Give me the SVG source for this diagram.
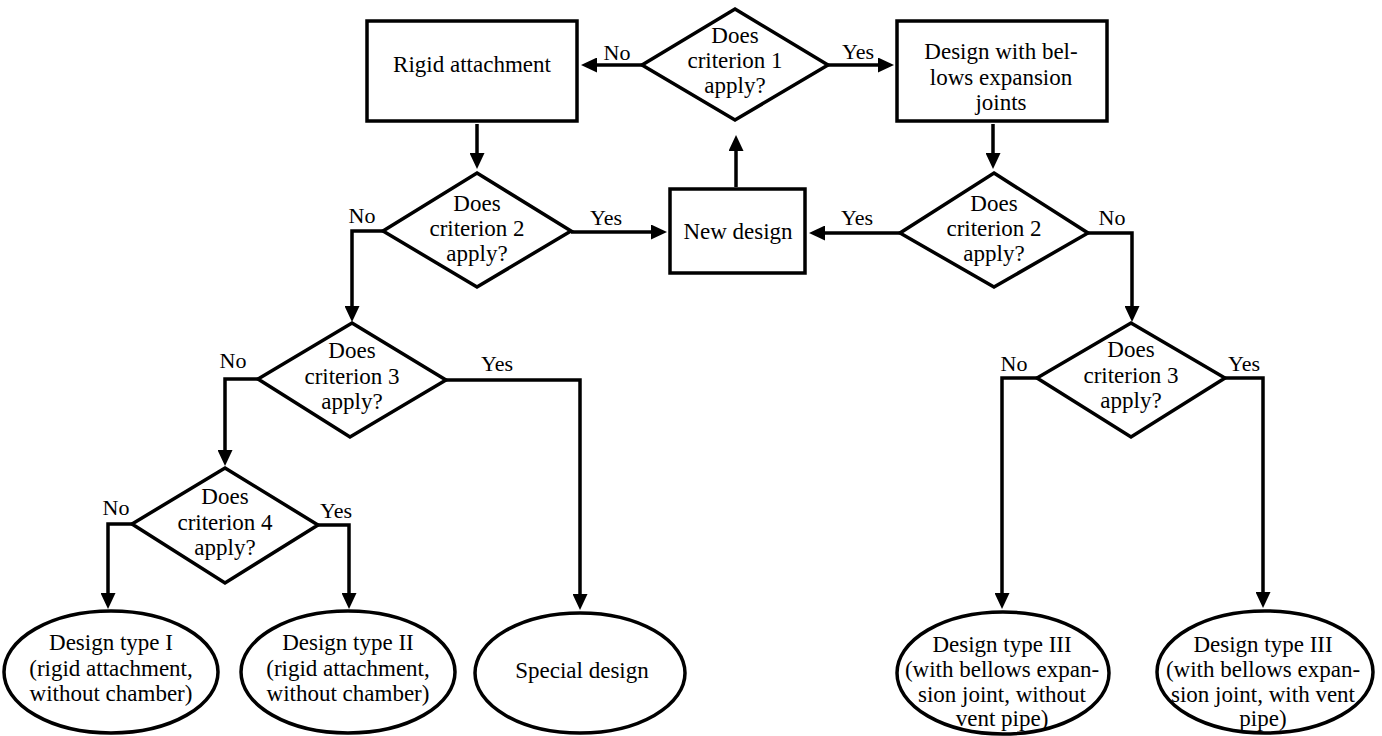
<svg xmlns="http://www.w3.org/2000/svg" width="1382" height="736" viewBox="0 0 1382 736">
<style>
.box{fill:#fff;stroke:#000;stroke-width:3.5}
.t{font-family:"Liberation Serif","Times New Roman",serif;font-size:23px;fill:#000;text-anchor:middle}
.lbl{font-family:"Liberation Serif","Times New Roman",serif;font-size:22px;fill:#000;text-anchor:middle}
.c{fill:none;stroke:#000;stroke-width:3.5;marker-end:url(#ah)}
</style>
<defs>
<marker id="ah" viewBox="0 0 16 15" refX="6" refY="7.5" markerWidth="16" markerHeight="15" markerUnits="userSpaceOnUse" orient="auto">
<path d="M0,0 L16,7.5 L0,15 z" fill="#000"/>
</marker>
</defs>
<rect width="1382" height="736" fill="#fff"/>
<g id="connectors">
<path class="c" d="M642,65 H591"/>
<path class="c" d="M828,65 H884"/>
<path class="c" d="M477,124 V159"/>
<path class="c" d="M571,232 H657"/>
<path class="c" d="M736,187 V145"/>
<path class="c" d="M900,233 H819"/>
<path class="c" d="M993,124 V159"/>
<path class="c" d="M383,231 H352 V312"/>
<path class="c" d="M1088,233 H1132 V312"/>
<path class="c" d="M258,379 H225 V456"/>
<path class="c" d="M446,380 H580 V600"/>
<path class="c" d="M132,524 H108 V599"/>
<path class="c" d="M318,525 H349 V599"/>
<path class="c" d="M1037,378 H1002 V599"/>
<path class="c" d="M1225,378 H1263 V598"/>
</g>
<g id="labels">
<text class="lbl" x="617" y="60">No</text>
<text class="lbl" x="858" y="59">Yes</text>
<text class="lbl" x="362" y="223">No</text>
<text class="lbl" x="606" y="225">Yes</text>
<text class="lbl" x="857" y="225">Yes</text>
<text class="lbl" x="1112" y="225">No</text>
<text class="lbl" x="233" y="368">No</text>
<text class="lbl" x="497" y="371">Yes</text>
<text class="lbl" x="1014" y="371">No</text>
<text class="lbl" x="1244" y="371">Yes</text>
<text class="lbl" x="116" y="515">No</text>
<text class="lbl" x="336" y="518">Yes</text>
</g>
<g id="rigid">
<rect class="box" x="367" y="21" width="210" height="100"/>
<text class="t" x="472" y="72">Rigid attachment</text>
</g>
<g id="crit1">
<polygon class="box" points="735,9 828,65 735,120 642,65"/>
<text class="t" x="735" y="43">Does</text>
<text class="t" x="735" y="68">criterion 1</text>
<text class="t" x="735" y="93">apply?</text>
</g>
<g id="bellows">
<rect class="box" x="897" y="21" width="210" height="100"/>
<text class="t" x="1001" y="59">Design with bel-</text>
<text class="t" x="1001" y="85">lows expansion</text>
<text class="t" x="1001" y="110">joints</text>
</g>
<g id="crit2left">
<polygon class="box" points="477,173 571,231 477,287 383,231"/>
<text class="t" x="477" y="211">Does</text>
<text class="t" x="477" y="236">criterion 2</text>
<text class="t" x="477" y="261">apply?</text>
</g>
<g id="newdesign">
<rect class="box" x="670" y="189" width="135" height="84"/>
<text class="t" x="738" y="239">New design</text>
</g>
<g id="crit2right">
<polygon class="box" points="994,173 1088,233 994,287 900,233"/>
<text class="t" x="994" y="211">Does</text>
<text class="t" x="994" y="236">criterion 2</text>
<text class="t" x="994" y="261">apply?</text>
</g>
<g id="crit3left">
<polygon class="box" points="352,323 446,380 350,437 258,379"/>
<text class="t" x="352" y="358">Does</text>
<text class="t" x="352" y="384">criterion 3</text>
<text class="t" x="352" y="409">apply?</text>
</g>
<g id="crit3right">
<polygon class="box" points="1131,323 1225,378 1131,437 1037,378"/>
<text class="t" x="1131" y="357">Does</text>
<text class="t" x="1131" y="383">criterion 3</text>
<text class="t" x="1131" y="408">apply?</text>
</g>
<g id="crit4">
<polygon class="box" points="225,468 318,525 225,583 132,524"/>
<text class="t" x="225" y="504">Does</text>
<text class="t" x="225" y="530">criterion 4</text>
<text class="t" x="225" y="555">apply?</text>
</g>
<g id="typeI">
<ellipse class="box" cx="111" cy="672" rx="107" ry="61"/>
<text class="t" x="111" y="650">Design type I</text>
<text class="t" x="111" y="676">(rigid attachment,</text>
<text class="t" x="111" y="701">without chamber)</text>
</g>
<g id="typeII">
<ellipse class="box" cx="348" cy="672" rx="107" ry="61"/>
<text class="t" x="348" y="650">Design type II</text>
<text class="t" x="348" y="676">(rigid attachment,</text>
<text class="t" x="348" y="701">without chamber)</text>
</g>
<g id="special">
<ellipse class="box" cx="580" cy="673" rx="105" ry="60"/>
<text class="t" x="582" y="678">Special design</text>
</g>
<g id="typeIIIa">
<ellipse class="box" cx="1003" cy="673" rx="106" ry="61"/>
<text class="t" x="1002" y="652">Design type III</text>
<text class="t" x="1002" y="677">(with bellows expan-</text>
<text class="t" x="1002" y="702">sion joint, without</text>
<text class="t" x="1002" y="726">vent pipe)</text>
</g>
<g id="typeIIIb">
<ellipse class="box" cx="1265" cy="672" rx="108" ry="61"/>
<text class="t" x="1263" y="652">Design type III</text>
<text class="t" x="1263" y="677">(with bellows expan-</text>
<text class="t" x="1263" y="702">sion joint, with vent</text>
<text class="t" x="1263" y="726">pipe)</text>
</g>
</svg>
